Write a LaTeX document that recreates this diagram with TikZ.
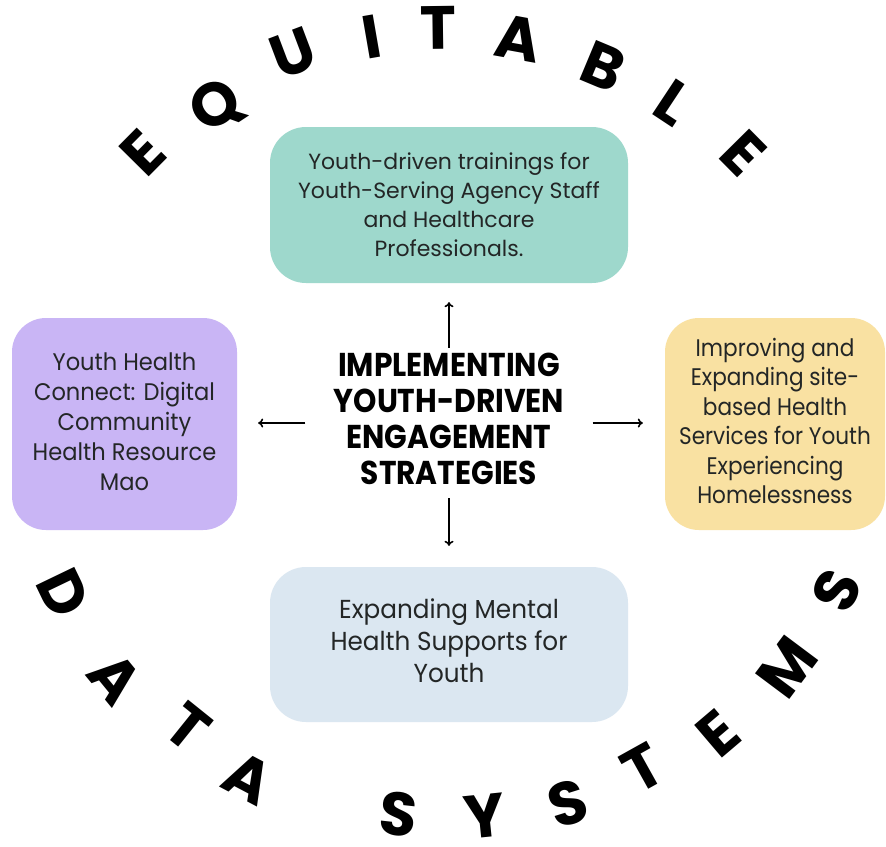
\documentclass[tikz,border=0pt]{standalone}
\usepackage{fontspec}
\usepackage{graphicx}
\setmainfont{Poppins}
\usetikzlibrary{arrows.meta}
\definecolor{tealbox}{RGB}{158,216,204}
\definecolor{purplebox}{RGB}{201,181,245}
\definecolor{yellowbox}{RGB}{249,225,162}
\definecolor{bluebox}{RGB}{219,231,241}
\definecolor{boxtext}{RGB}{35,38,38}
\newcommand{\sqz}[2]{\scalebox{#1}[1]{\begin{tabular}{@{}c@{}}#2\end{tabular}}}
\begin{document}
\begin{tikzpicture}[x=1pt,y=-1pt,
  box/.style={rounded corners=36pt, inner sep=0pt, text=boxtext, align=center},
  bigl/.style={font=\fontsize{61}{61}\selectfont\bfseries, inner sep=0pt, text=black},
  arr/.style={-{To[length=5pt,width=9pt]}, line width=1.6pt, black}]
\useasboundingbox (0,0) rectangle (886,846);
\fill[white] (0,0) rectangle (886,846);

% boxes
\node[box, fill=tealbox, minimum width=358pt, minimum height=156pt,
  font=\fontsize{22}{29}\selectfont] (top) at (449,205)
  {Youth-driven trainings for\\ Youth-Serving Agency Staff\\ and Healthcare\\ Professionals.};
\node[box, fill=purplebox, minimum width=225pt, minimum height=212pt, rounded corners=34pt,
  font=\fontsize{24}{30}\selectfont] (lft) at (124.5,424)
  {\sqz{0.94}{Youth Health\\ Connect: Digital\\ Community\\ Health Resource\\ Mao}};
\node[box, fill=yellowbox, minimum width=220pt, minimum height=212pt, rounded corners=34pt,
  font=\fontsize{24}{29.5}\selectfont] (rgt) at (775,424)
  {\sqz{0.9}{Improving and\\ Expanding site-\\ based Health\\ Services for Youth\\ Experiencing\\ Homelessness}};
\node[box, fill=bluebox, minimum width=358pt, minimum height=155pt,
  font=\fontsize{26}{32}\selectfont] (bot) at (449,644.5)
  {\sqz{0.95}{Expanding Mental\\ Health Supports for\\ Youth}};

% centre
\node[inner sep=0pt, minimum width=287pt, minimum height=150pt,
  font=\fontsize{33}{36}\selectfont\bfseries, text=black] (ctr) at (449,423)
  {\sqz{0.9}{IMPLEMENTING\\ YOUTH-DRIVEN\\ ENGAGEMENT\\ STRATEGIES}};

% arrows
\draw[arr, shorten >=19pt] (ctr.north) -- (top.south);
\draw[arr, shorten >=21pt] (ctr.south) -- (bot.north);
\draw[arr, shorten >=21pt] (ctr.west) -- (ctr.west -| lft.east);
\draw[arr, shorten >=22pt] (ctr.east) -- (ctr.east -| rgt.west);

% arc letters
\foreach \x/\y/\r/\l [count=\i] in {143/153/45.3/E, 217/107/33.4/Q, 293/53/20.7/U,
  372/37/9.8/I, 438/28/0.7/T, 518/38/-10.3/A, 603/67/-22.7/B, 673/103/-33.5/L,
  743/153/-45.3/E}
  \node[bigl, rotate=\r] (eq\i) at (\x,\y) {\l};
\foreach \x/\y/\r/\l [count=\i] in {63/593/-64.3/D, 115/678/-50.7/A, 188/727/-38.8/T,
  248/778/-27.9/A, 398/814/-6.3/S, 485/816/5.8/Y, 568/803/17.4/S, 643/768/29.1/T,
  718/733/40.4/E, 787/667/53.2/M, 837/590/65.4/S}
  \node[bigl, rotate=\r] (ds\i) at (\x,\y) {\l};
\end{tikzpicture}
\end{document}
